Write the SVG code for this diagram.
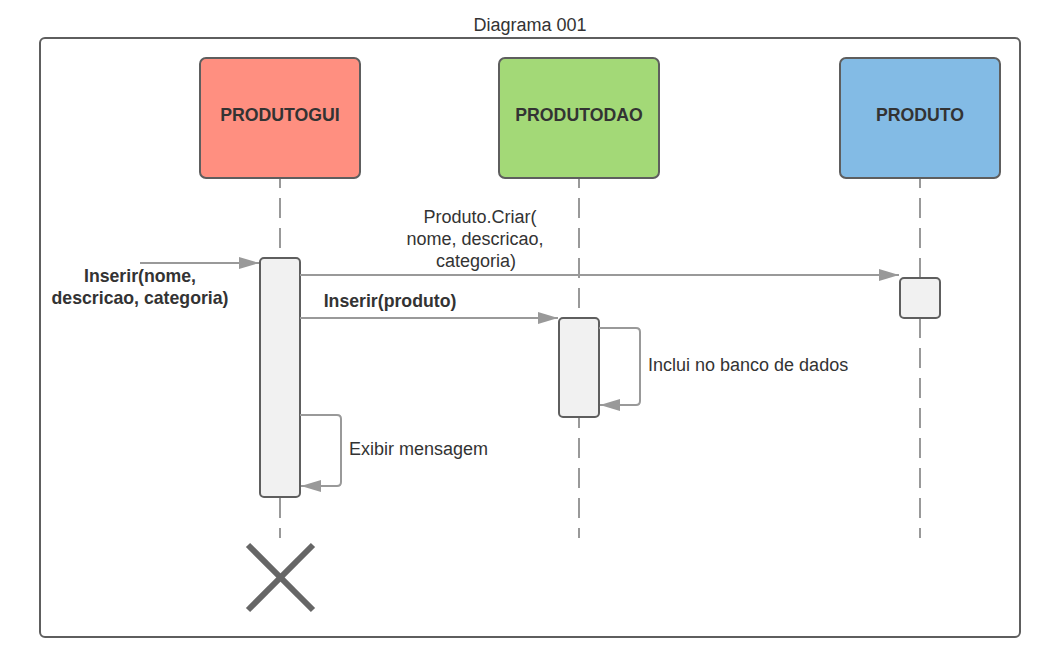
<svg xmlns="http://www.w3.org/2000/svg" width="1042" height="656" viewBox="0 0 1042 656">
<defs>
<style>
text{font-family:"Liberation Sans",Arial,sans-serif;font-size:18px;fill:#333}
.b{font-weight:bold;font-size:17.7px}
.box{stroke:#5e5e5e;stroke-width:2}
.life{stroke:#999;stroke-width:2;stroke-dasharray:20 10;fill:none}
.act{fill:#f1f1f1;stroke:#5e5e5e;stroke-width:2}
.msg{stroke:#999;stroke-width:2;fill:none}
</style>
<marker id="ah" viewBox="0 0 20 12" refX="20" refY="6" markerWidth="20" markerHeight="12" markerUnits="userSpaceOnUse" orient="auto">
<path d="M0,0 L20,6 L0,12 Z" fill="#999"/>
</marker>
</defs>
<rect width="1042" height="656" fill="#fff"/>
<text x="530" y="31" text-anchor="middle">Diagrama 001</text>
<rect x="40" y="38" width="980" height="599" rx="5" fill="none" stroke="#5e5e5e" stroke-width="2"/>

<g id="lifelines">
<line class="life" x1="280" y1="178" x2="280" y2="538" stroke-dashoffset="10"/>
<line class="life" x1="579" y1="178" x2="579" y2="538" stroke-dashoffset="10"/>
<line class="life" x1="920" y1="178" x2="920" y2="538" stroke-dashoffset="10"/>
</g>

<g id="produtogui">
<rect class="box" x="200" y="58" width="160" height="120" rx="6" fill="#ff8f80"/>
<text class="b" x="280" y="121" text-anchor="middle">PRODUTOGUI</text>
</g>
<g id="produtodao">
<rect class="box" x="499" y="58" width="160" height="120" rx="6" fill="#a3d977"/>
<text class="b" x="579" y="121" text-anchor="middle">PRODUTODAO</text>
</g>
<g id="produto">
<rect class="box" x="840" y="58" width="160" height="120" rx="6" fill="#83bbe5"/>
<text class="b" x="920" y="121" text-anchor="middle">PRODUTO</text>
</g>

<g id="act-gui"><rect class="act" x="260" y="258" width="40" height="239" rx="4"/></g>
<g id="act-dao"><rect class="act" x="559" y="318" width="40" height="99" rx="4"/></g>
<g id="act-produto"><rect class="act" x="900" y="278" width="40" height="40" rx="4"/></g>

<g id="connectors">
<line class="msg" x1="140" y1="263" x2="259" y2="263" marker-end="url(#ah)"/>
<line class="msg" x1="300" y1="275" x2="899" y2="275" marker-end="url(#ah)"/>
<line class="msg" x1="300" y1="318" x2="558" y2="318" marker-end="url(#ah)"/>
<path class="msg" d="M599,328 H636 Q640,328 640,332 V401 Q640,405 636,405 H600" marker-end="url(#ah)"/>
<path class="msg" d="M300,415 H337 Q341,415 341,419 V482 Q341,486 337,486 H301" marker-end="url(#ah)"/>
</g>

<g id="labels">
<text class="b" x="140" y="282" text-anchor="middle">Inserir(nome,</text>
<text class="b" x="140" y="304" text-anchor="middle">descricao, categoria)</text>
<text x="480" y="223" text-anchor="middle">Produto.Criar(</text>
<text x="475" y="245" text-anchor="middle">nome, descricao,</text>
<text x="476" y="267" text-anchor="middle">categoria)</text>
<text class="b" x="390" y="307" text-anchor="middle">Inserir(produto)</text>
<text x="648" y="371">Inclui no banco de dados</text>
<text x="349" y="455">Exibir mensagem</text>
</g>

<g id="destroy">
<line x1="248" y1="545" x2="313" y2="610" stroke="#666" stroke-width="6"/>
<line x1="313" y1="545" x2="248" y2="610" stroke="#666" stroke-width="6"/>
</g>
</svg>
